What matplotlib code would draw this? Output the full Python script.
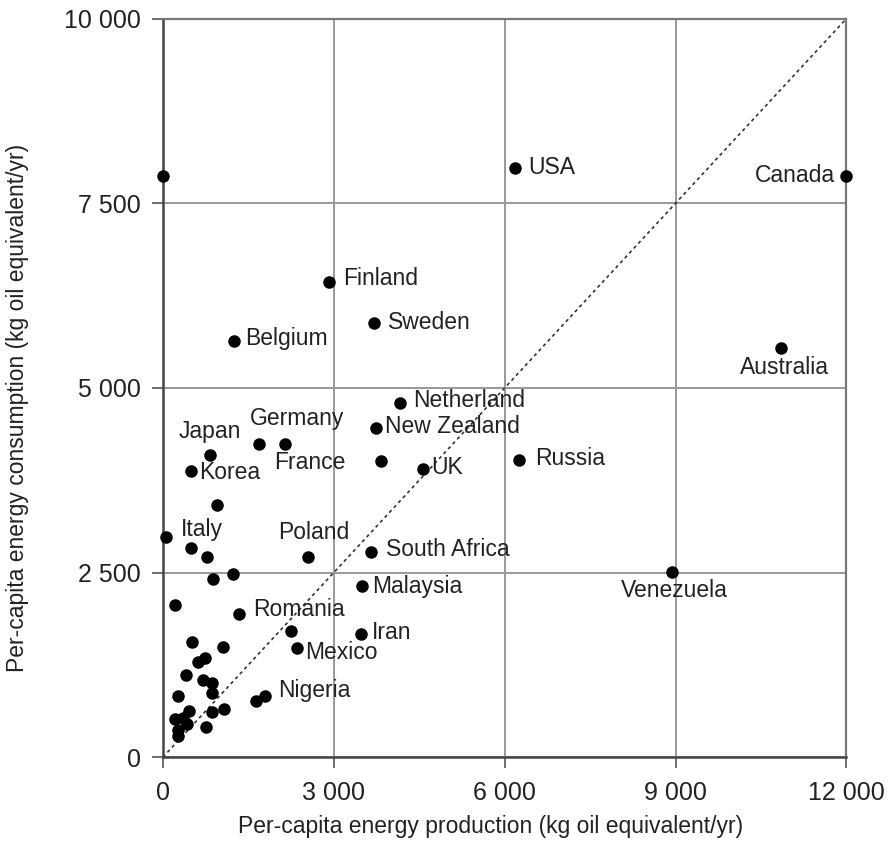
import matplotlib.pyplot as plt
from matplotlib.ticker import FuncFormatter

plt.rcParams['font.family'] = ['Liberation Sans', 'DejaVu Sans']

# labelled countries: production, consumption (kg oil equivalent/yr)
countries = ["USA", "Canada", "Finland", "Sweden", "Belgium", "Australia",
             "Netherland", "New Zealand", "Germany", "France", "Japan", "Korea",
             "UK", "Russia", "Italy", "Poland", "South Africa", "Malaysia",
             "Venezuela", "Romania", "Mexico", "Iran", "Nigeria"]
prod = [6180, 12000, 2910, 3700, 1250, 10860,
        4160, 3740, 1680, 2140, 820, 490,
        4560, 6260, 50, 2540, 3650, 3490,
        8930, 1330, 2350, 3470, 1800]
cons = [7980, 7870, 6440, 5880, 5640, 5540,
        4800, 4460, 4240, 4240, 4090, 3875,
        3900, 4020, 2980, 2710, 2780, 2320,
        2510, 1940, 1480, 1670, 830]

# unlabelled countries
other_prod = [0, 3830, 950, 490, 770, 1230, 880, 210, 2250,
              520, 1050, 740, 610, 400, 710, 865, 865, 270, 1640,
              1075, 855, 460, 210, 355, 415, 765, 270, 260]
other_cons = [7870, 4010, 3420, 2830, 2710, 2480, 2410, 2060, 1710,
              1560, 1490, 1340, 1285, 1120, 1045, 1010, 865, 830, 765,
              660, 615, 630, 515, 535, 455, 410, 365, 285]

x_ticks = [0, 3000, 6000, 9000, 12000]
y_ticks = [0, 2500, 5000, 7500, 10000]

# label placement: offset in pixels, horizontal alignment
label_pos = {
    "USA": (13, 0, "left"), "Canada": (-11, 0, "right"),
    "Finland": (15, 3, "left"), "Sweden": (14, 0, "left"),
    "Belgium": (11, 2, "left"), "Australia": (3, -19, "center"),
    "Netherland": (13, 2, "left"), "New Zealand": (9, 1, "left"),
    "Germany": (38, 26, "center"), "France": (25, -18, "center"),
    "Japan": (0, 24, "center"), "Korea": (8, -1, "left"),
    "UK": (9, 2, "left"), "Russia": (16, 2, "left"),
    "Italy": (15, 8, "left"), "Poland": (6, 25, "center"),
    "South Africa": (15, 2, "left"), "Malaysia": (10, -1, "left"),
    "Venezuela": (3, -19, "center"), "Romania": (14, 4, "left"),
    "Mexico": (8, -5, "left"), "Iran": (11, 1, "left"),
    "Nigeria": (13, 5, "left"),
}

fig = plt.figure(figsize=(8.9, 8.48), dpi=100)
ax = fig.add_axes([0.183, 0.107, 0.768, 0.871])

ax.set_xlim(x_ticks[0], x_ticks[-1])
ax.set_ylim(y_ticks[0], y_ticks[-1])

ax.plot([x_ticks[0], x_ticks[-1]], [y_ticks[0], y_ticks[-1]],
        linestyle=(0, (2, 2)), color='#333333', lw=1.2, zorder=2)

ax.plot(prod, cons, 'o', color='black', ms=8, clip_on=False, zorder=4)
ax.plot(other_prod, other_cons, 'o', color='black', ms=8, clip_on=False, zorder=4)

for name, x, y in zip(countries, prod, cons):
    dx, dy, ha = label_pos[name]
    ax.annotate(name, (x, y), xytext=(dx, dy), textcoords='offset pixels',
                ha=ha, va='center', fontsize=16.5, color='#222222')

fmt = FuncFormatter(lambda v, p: "{:,}".format(int(v)).replace(",", " "))
ax.xaxis.set_major_formatter(fmt)
ax.yaxis.set_major_formatter(fmt)
ax.set_xticks(x_ticks)
ax.set_yticks(y_ticks)
ax.tick_params(axis='both', direction='out', length=8, width=1.2,
               colors='#555555', labelcolor='#222222', labelsize=18)
ax.tick_params(axis='x', pad=9)
ax.tick_params(axis='y', pad=8)

ax.grid(True, color='#999999', lw=1.4, zorder=1)
ax.set_axisbelow(True)
for side in ['left', 'bottom']:
    ax.spines[side].set_color('#444444')
    ax.spines[side].set_linewidth(1.8)
for side in ['top', 'right']:
    ax.spines[side].set_color('#777777')
    ax.spines[side].set_linewidth(1.6)

ax.set_xlabel('Per-capita energy production (kg oil equivalent/yr)',
              fontsize=16.5, color='#222222')
ax.set_ylabel('Per-capita energy consumption (kg oil equivalent/yr)',
              fontsize=16.5, color='#222222')
ax.xaxis.set_label_coords(0.480, -0.078)
ax.yaxis.set_label_coords(-0.196, 0.473)

plt.savefig('out.png', dpi=100)
